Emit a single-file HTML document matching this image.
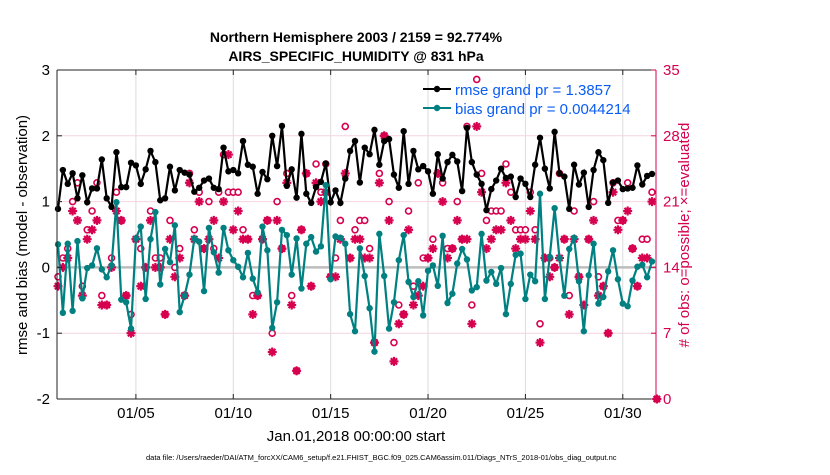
<!DOCTYPE html>
<html><head><meta charset="utf-8"><style>
body{margin:0;background:#fff;}
svg text{font-family:"Liberation Sans",sans-serif;}
</style></head><body>
<svg id="chart" width="830" height="470" xmlns="http://www.w3.org/2000/svg">
<g id="grid"></g>
<g id="marks"></g>
<g id="axes"></g>
<text x="356" y="42" text-anchor="middle" font-size="14" font-weight="bold">Northern Hemisphere 2003 / 2159 = 92.774%</text>
<text x="356" y="61" text-anchor="middle" font-size="14" font-weight="bold">AIRS_SPECIFIC_HUMIDITY @ 831 hPa</text>
<text transform="translate(27,235) rotate(-90)" text-anchor="middle" font-size="15">rmse and bias (model - observation)</text>
<text transform="translate(689,235) rotate(-90)" text-anchor="middle" font-size="15" fill="#d6004f"># of obs: o=possible; ×=evaluated</text>
<text x="356" y="441" text-anchor="middle" font-size="15">Jan.01,2018 00:00:00 start</text>
<text x="146" y="460" font-size="7.5">data file: /Users/raeder/DAI/ATM_forcXX/CAM6_setup/f.e21.FHIST_BGC.f09_025.CAM6assim.011/Diags_NTrS_2018-01/obs_diag_output.nc</text>
<g>
 <g>
  <line x1="423" y1="89" x2="451" y2="89" stroke="#000" stroke-width="2"/>
  <circle cx="437" cy="89" r="3.2" fill="#000"/>
  <text x="455" y="95" font-size="15" fill="#0a5cf5">rmse grand pr = 1.3857</text>
 </g>
 <g>
  <line x1="423" y1="108" x2="451" y2="108" stroke="#008080" stroke-width="2"/>
  <circle cx="437" cy="108" r="3.2" fill="#008080"/>
  <text x="455" y="114" font-size="15" fill="#0a5cf5">bias grand pr = 0.0044214</text>
 </g>
</g>
</svg>
<script>
const rmse=[0.89,1.48,1.27,1.43,1.05,1.40,0.99,1.20,1.20,1.64,1.05,0.92,1.75,1.22,1.22,1.59,1.55,1.27,1.49,1.77,1.60,1.02,1.05,1.53,1.17,1.48,1.44,1.41,1.15,1.21,1.32,
1.35,1.21,1.19,1.82,1.46,1.48,1.43,1.92,1.56,1.53,1.12,1.45,1.34,2.0,1.54,2.15,1.24,1.49,1.06,2.03,1.12,0.98,1.22,1.30,1.58,0.99,1.17,0.98,1.35,1.77,
1.92,1.29,1.82,1.72,2.09,1.56,1.92,1.95,1.41,1.21,2.07,1.27,1.77,1.49,1.54,1.46,1.12,1.72,1.35,1.60,1.71,1.61,1.16,2.12,1.60,1.41,1.27,0.87,1.19,1.32,1.50,1.36,
1.38,1.07,1.35,1.27,1.07,1.56,1.97,1.50,1.20,2.06,1.43,1.38,0.89,1.56,1.26,1.44,0.92,1.48,1.75,1.63,0.98,1.29,1.32,1.19,1.20,1.21,1.55,1.26,1.39,1.42];
const bias=[0.35,-0.69,0.36,-0.66,0.40,-0.47,-0.01,0.03,0.29,-0.03,-0.15,0.03,0.99,-0.49,-0.53,-0.93,0.44,0.62,-0.48,0.43,0.84,-0.26,0.28,0.08,0.64,-0.68,-0.43,-0.11,0.44,0.39,-0.36,
0.60,0.23,-0.08,0.60,0.26,0.11,0.01,-0.15,0.22,-0.17,-0.38,0.62,0.26,-0.92,-0.53,0.57,0.49,-0.11,0.44,-0.32,0.36,0.46,0.24,0.32,1.25,-0.18,0.47,0.45,0.36,-0.71,
-0.97,0.29,-0.13,-0.62,-1.28,0.51,-0.13,-0.93,-0.53,0.11,0.49,-0.22,-0.45,-0.21,-0.73,-0.05,0.03,-0.28,0.48,-0.54,-0.40,0.06,0.28,0.12,-0.35,-0.30,0.51,-0.20,-0.07,-0.25,-0.01,-0.71,
-0.25,0.19,0.21,-0.48,-0.11,-0.21,1.12,-0.48,0.16,0.90,0.14,-0.43,0.28,0.45,-0.21,-0.97,-0.12,0.36,-0.55,-0.45,-0.06,0.26,-0.18,-0.55,-0.59,-0.20,0.01,0.04,-0.15,0.09];
const obsEvaluated=[12,14,15,20,19,11,17,18,19,10,10,14,20,19,11,7,17,12,14,19,14,14,9,17,13,15,11,23,17,21,16,
17,19,15,21,26,18,20,17,17,9,11,17,19,5,19,16,23,10,3,18,24,12,23,21,22,13,13,17,24,15,
17,17,15,15,6,23,28,19,4,8,9,18,10,11,12,15,16,24,21,15,16,19,17,17,8,29,22,16,17,18,18,23,
19,16,17,17,20,17,6,15,13,14,15,17,9,17,13,10,17,19,11,12,7,22,18,19,20,16,12,15,15,21,0];
const obsPossible=[13,15,16,21,23,12,18,20,23,11,10,15,22,19,11,9,17,16,14,20,15,15,9,19,14,16,11,24,18,22,16,
21,16,22,26,22,22,22,18,17,11,11,17,19,7,21,16,24,11,3,18,24,12,25,22,25,13,15,19,29,15,
18,19,19,16,6,24,28,21,6,10,9,20,12,23,15,15,17,24,23,16,16,21,17,29,10,34,24,19,20,20,20,25,
22,18,18,18,22,18,8,15,15,14,24,17,11,20,13,10,17,21,13,12,7,23,19,19,23,16,12,17,17,22,0];
const xTicks=["01/05","01/10","01/15","01/20","01/25","01/30"];
const xTickDays=[4,9,14,19,24,29];
const yLeftTicks=[-2,-1,0,1,2,3];
const yRightTicks=[0,7,14,21,28,35];

const L=57,R=656,T=70,B=399,NS="http://www.w3.org/2000/svg";
const x0=58, step=(652-58)/(rmse.length-1);
const xi=i=>x0+i*step;
const xDay=d=>x0+d*4*step;
const yL=v=>B-(v+2)/5*(B-T);
const yR=v=>B-v/35*(B-T);
function mk(tag,attrs,parent){const e=document.createElementNS(NS,tag);for(const k in attrs)e.setAttribute(k,attrs[k]);parent.appendChild(e);return e;}
const grid=document.getElementById('grid'),marks=document.getElementById('marks'),axes=document.getElementById('axes');
xTickDays.forEach((d,i)=>{const g=mk('line',{x1:xDay(d),x2:xDay(d),y1:T,y2:B,stroke:'#dcdcdc','stroke-width':1},grid);

});
yRightTicks.forEach(v=>{if(v===0||v===35||v===14)return;const g=mk('line',{x1:L,x2:R,y1:yR(v),y2:yR(v),stroke:'#f6d3e0','stroke-width':1},grid);

});
const zl=mk('line',{x1:L,x2:R,y1:yL(0),y2:yL(0),stroke:'#bdbdbd','stroke-width':2.5},grid);


obsPossible.forEach((v,i)=>{const c=mk('circle',{cx:xi(i),cy:yR(v),r:3,fill:'#fff',stroke:'#d6004f','stroke-width':1.6},marks);

});
obsEvaluated.forEach((v,i)=>{const g=mk('g',{},marks);


const cx=xi(i),cy=yR(v),s=4.5;
mk('circle',{cx:cx,cy:cy,r:2.5,fill:'#d6004f'},g);
[[s,0],[0,s],[s*0.7,s*0.7],[s*0.7,-s*0.7]].forEach(([dx,dy])=>mk('line',{x1:cx-dx,y1:cy-dy,x2:cx+dx,y2:cy+dy,stroke:'#d6004f','stroke-width':2.2},g));});
function series(arr,color,name){
 const p=mk('polyline',{points:arr.map((v,i)=>xi(i)+','+yL(v)).join(' '),fill:'none',stroke:color,'stroke-width':2.2},marks);
 
 
 arr.forEach((v,i)=>{const c=mk('circle',{cx:xi(i),cy:yL(v),r:3.2,fill:color},marks);
 
 });
}
series(rmse,'#000','rmse');
series(bias,'#008080','bias');
mk('line',{x1:L,y1:T,x2:R,y2:T,stroke:'#222','stroke-width':1},axes);
mk('line',{x1:L,y1:B,x2:R,y2:B,stroke:'#222','stroke-width':1},axes);
mk('line',{x1:L,y1:T,x2:L,y2:B,stroke:'#222','stroke-width':1},axes);
mk('line',{x1:R,y1:T,x2:R,y2:B,stroke:'#d6004f','stroke-width':1},axes);
xTicks.forEach((t,i)=>{const x=xDay(xTickDays[i]);
mk('line',{x1:x,x2:x,y1:B,y2:B-5,stroke:'#222'},axes);mk('line',{x1:x,x2:x,y1:T,y2:T+5,stroke:'#222'},axes);
const tx=mk('text',{x:x,y:418,'text-anchor':'middle','font-size':15},axes);tx.textContent=t;

});
yLeftTicks.forEach(v=>{const y=yL(v);mk('line',{x1:L,x2:L+5,y1:y,y2:y,stroke:'#222'},axes);
const tx=mk('text',{x:50,y:y+5,'text-anchor':'end','font-size':15},axes);tx.textContent=v;

});
yRightTicks.forEach(v=>{const y=yR(v);mk('line',{x1:R-5,x2:R,y1:y,y2:y,stroke:'#d6004f'},axes);
const tx=mk('text',{x:663,y:y+5,'font-size':15,fill:'#d6004f'},axes);tx.textContent=v;

});
</script>
</body></html>
